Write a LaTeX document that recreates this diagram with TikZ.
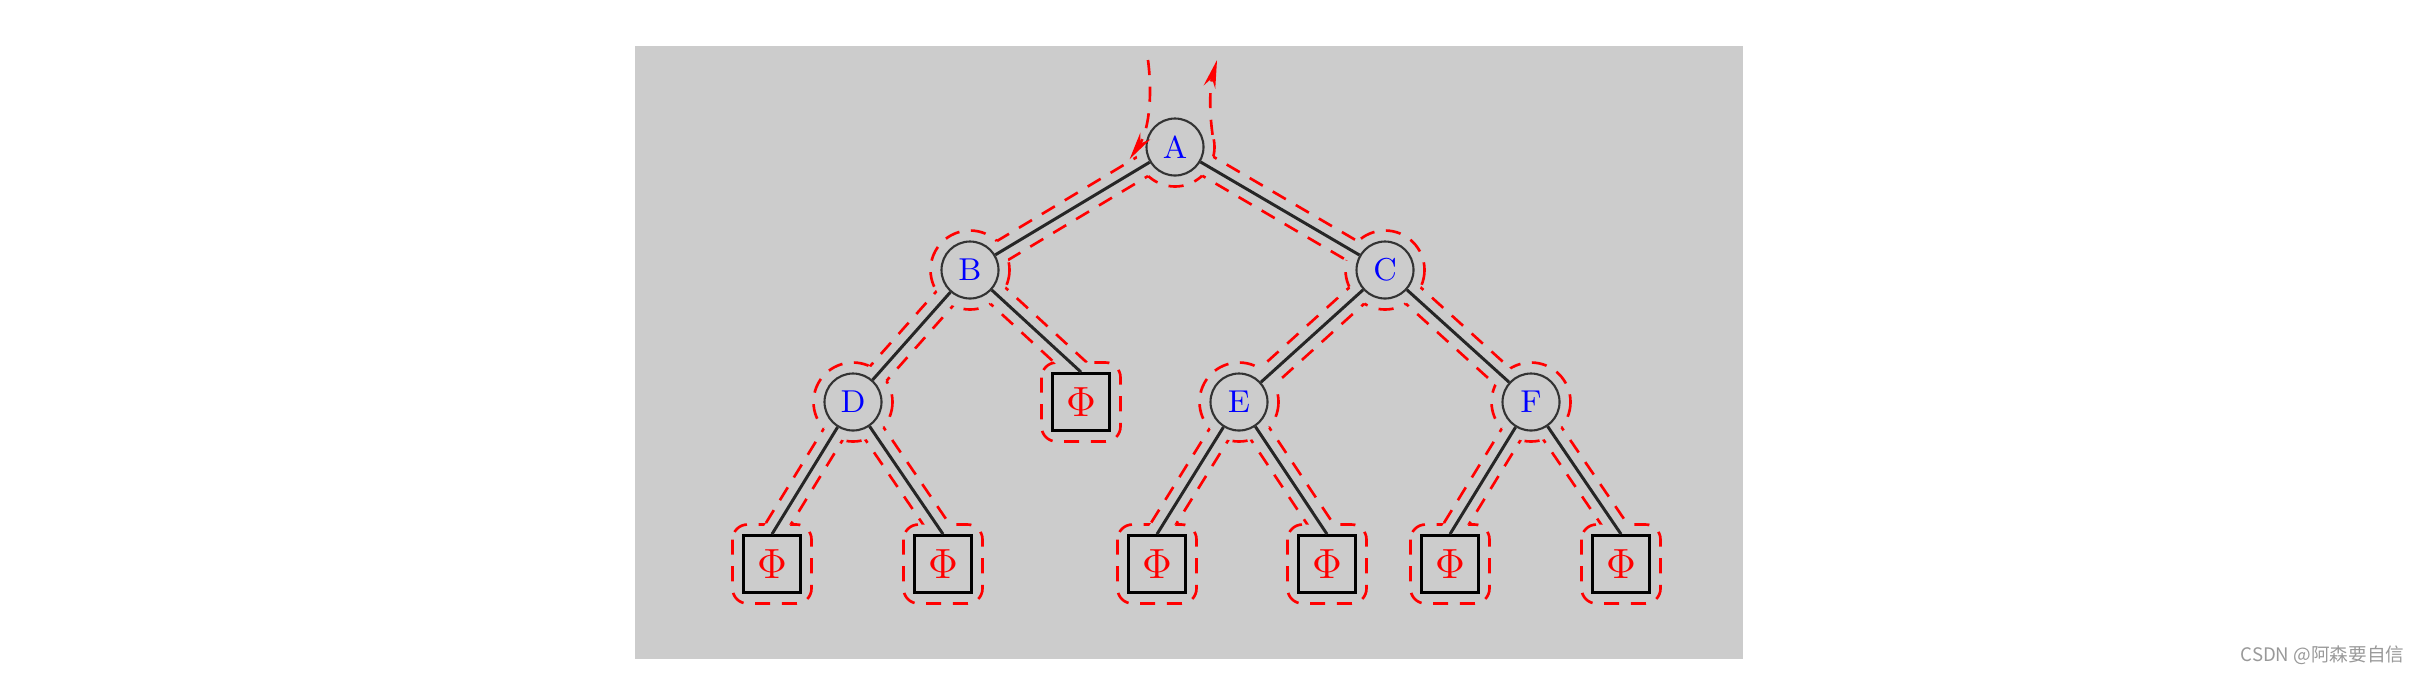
\documentclass[tikz,border=0pt]{standalone}
\usepackage{fontspec}
\newfontfamily\cjk{Noto Sans CJK SC}
\usetikzlibrary{calc,arrows.meta}
\definecolor{panel}{HTML}{CCCCCC}
\begin{document}
\begin{tikzpicture}[x=0.1mm, y=-0.1mm,
    vertex/.style={circle, draw=black!80, line width=0.6pt, minimum size=5.7mm, inner sep=0pt,
      text=blue, font=\fontsize{9}{9}\selectfont},
    leaf/.style={rectangle, draw=black, line width=0.8pt, minimum size=5.7mm, inner sep=0pt,
      text=red, font=\fontsize{12.5}{12.5}\selectfont},
    branch/.style={line width=0.85pt, black!85},
    trail/.style={red, line width=0.75pt, dash pattern=on 4.3pt off 3.3pt}]
  \useasboundingbox (0,0) rectangle (2420,674);
  \fill[panel] (635,46) rectangle (1743,659);
  \foreach \name/\x/\y in {A/1175/147, B/970/270, C/1385/270, D/853/402, E/1239/402, F/1531/402}
    \node[vertex] (\name) at (\x,\y) {\name};
  \foreach \name/\x/\y in {P1/772/564, P2/943/564, P3/1081/402, P4/1157/564, P5/1327/564, P6/1450/564, P7/1621/564}
    \node[leaf] (\name) at (\x,\y) {$\Phi$};
  \foreach \p/\q in {A/B, A/C, B/D, B/P3.north, C/E, C/F, D/P1.north, D/P2.north,
      E/P4.north, E/P5.north, F/P6.north, F/P7.north}
    \draw[branch] (\p) -- (\q);
  % the walk round the tree: outlines of the nodes, cut where the branches leave
  \begin{scope}[even odd rule]
    \clip (0,0) rectangle (2420,674)
      foreach \p/\q in {A/B, A/C, B/D, B/P3.north, C/E, C/F, D/P1.north, D/P2.north,
          E/P4.north, E/P5.north, F/P6.north, F/P7.north} {
        ($(\p)!1.1mm!90:(\q)$) -- ($(\q)!1.1mm!-90:(\p)$) -- ($(\q)!1.1mm!90:(\p)$)
          -- ($(\p)!1.1mm!-90:(\q)$) -- cycle};
    \begin{scope}[even odd rule]
      \clip (0,0) rectangle (2420,674)
        (A.center) -- ($(A.center)+(165:70)$) -- ($(A.center)+(255:90)$) -- ($(A.center)+(342:70)$) -- cycle;
      \foreach \name in {A,B,C,D,E,F}
        \draw[trail] (\name.center) circle[radius=39.5];
      \foreach \name in {P1,P2,P3,P4,P5,P6,P7}
        \draw[trail, rounded corners=1.5mm] ($(\name.center)+(-39.5,-39.5)$) rectangle ($(\name.center)+(39.5,39.5)$);
    \end{scope}
  \end{scope}
  % ... and both sides of every branch, cut where the nodes are
  \begin{scope}[even odd rule, rounded corners=1.5mm]
    \clip (0,0) rectangle (2420,674)
      foreach \name in {A,B,C,D,E,F} {(\name.center) circle[radius=39.5]}
      foreach \name in {P1,P2,P3,P4,P5,P6,P7} {
        ($(\name.center)+(-39.5,-39.5)$) rectangle ($(\name.center)+(39.5,39.5)$)};
    \foreach \p/\q in {A/B, A/C, B/D, B/P3.north, C/E, C/F, D/P1.north, D/P2.north,
        E/P4.north, E/P5.north, F/P6.north, F/P7.north} {
      \draw[trail] ($(\p)!1.1mm!90:(\q)$) -- ($(\q)!1.1mm!-90:(\p)$);
      \draw[trail] ($(\p)!1.1mm!-90:(\q)$) -- ($(\q)!1.1mm!90:(\p)$);
    }
  \end{scope}
  \coordinate (entry) at (1148,60);
  \coordinate (exit) at (1217,60);
  \draw[trail, -{Stealth[length=2.8mm, width=1.2mm]}] (entry)
    .. controls (1153,100) and (1148,132) .. ($(A.center)+(165:47)$);
  \draw[trail, -{Stealth[length=2.8mm, width=1.2mm]}] ($(A.center)+(342:39.5)$)
    .. controls (1209,110) and (1210,85) .. (exit);
  \node[font=\cjk\fontsize{5.3}{6}\selectfont, text=black!40, inner sep=0pt, anchor=east] (mark) at (2405,655) {CSDN @阿森要自信};
\end{tikzpicture}
\end{document}
